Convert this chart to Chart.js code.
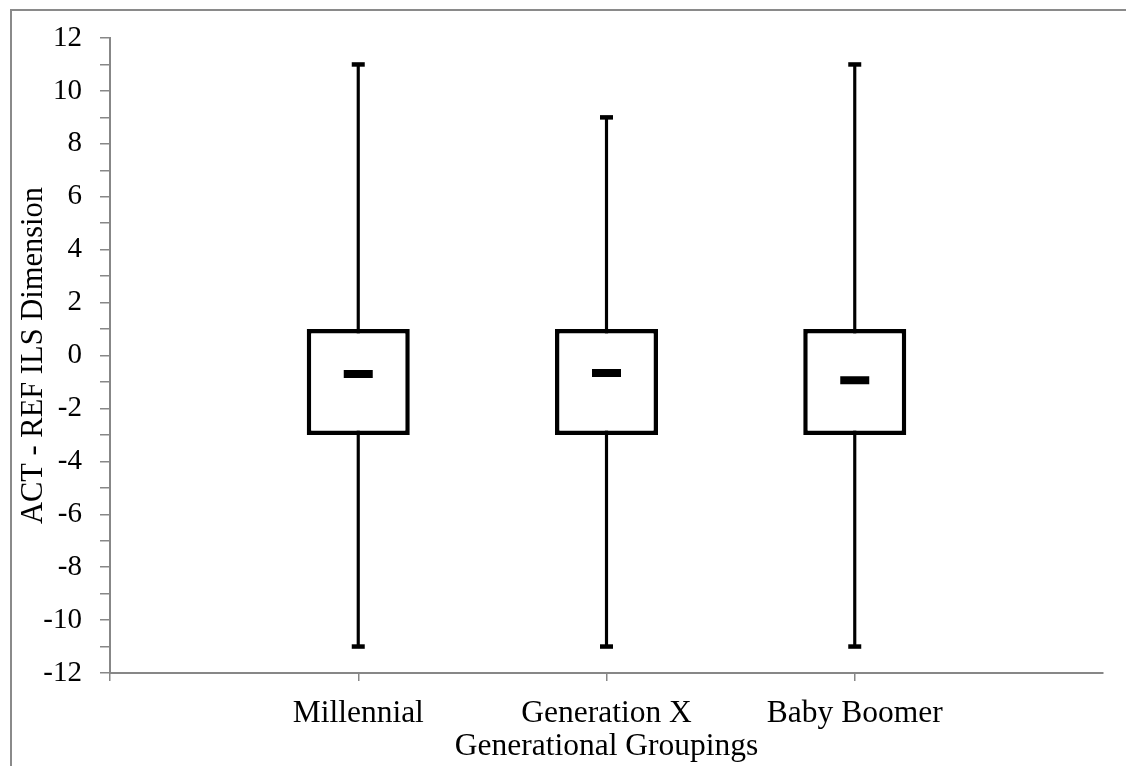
<!DOCTYPE html>
<html>
<head>
<meta charset="utf-8">
<script src="https://cdn.jsdelivr.net/npm/chart.js@4/dist/chart.umd.min.js"></script>
<style>
  html, body { margin: 0; padding: 0; background: #fff; overflow: hidden; }
  #wrap { position: relative; width: 1126px; height: 766px; }
  #frame { position: absolute; left: 10px; top: 9px; width: 2000px; height: 2000px;
           border-left: 2px solid #8a8a8a; border-top: 2px solid #8a8a8a; pointer-events: none; }
</style>
</head>
<body>
<div id="wrap">
  <canvas id="c" width="1126" height="766"></canvas>
  <div id="frame"></div>
</div>
<script>
// ---- data ----
const categories = ['Millennial', 'Generation X', 'Baby Boomer'];
const whiskerMin = [-11, -11, -11];
const whiskerMax = [11, 9, 11];
const boxQ1 = [-3, -3, -3];
const boxQ3 = [1, 1, 1];
const meanValues = [-0.7, -0.66, -0.94];
const yMin = -12;
const yMax = 12;
const yLabelStep = 2;
const xTitle = 'Generational Groupings';
const yTitle = 'ACT - REF ILS Dimension';

// Category axis padded with an empty slot on each side (axis runs 0..4, groups sit at 1..3)
const labels = [''].concat(categories, ['']);
const pad = arr => [null].concat(arr, [null]);
const rangePad = (lo, hi) => [null].concat(lo.map((v, i) => [v, hi[i]]), [null]);

const FAMILY = "'Liberation Serif', 'Times New Roman', serif";
const FONT_Y = { family: FAMILY, size: 29 };
const FONT_YT = { family: FAMILY, size: 30.5 };
const FONT_X = { family: FAMILY, size: 31.5 };
const AXIS = '#878787';

new Chart(document.getElementById('c'), {
  type: 'bar',
  data: {
    labels: labels,
    datasets: [
      { type: 'line', label: 'Mean', data: pad(meanValues), showLine: false,
        pointStyle: 'line', pointRadius: 14.5, pointHoverRadius: 14.5,
        borderColor: '#000', pointBorderWidth: 8, borderWidth: 8 },
      { type: 'line', label: 'Max', data: pad(whiskerMax), showLine: false,
        pointStyle: 'line', pointRadius: 6.5, pointHoverRadius: 6.5,
        borderColor: '#000', pointBorderWidth: 4.5, borderWidth: 4.5 },
      { type: 'line', label: 'Min', data: pad(whiskerMin), showLine: false,
        pointStyle: 'line', pointRadius: 6.5, pointHoverRadius: 6.5,
        borderColor: '#000', pointBorderWidth: 4.5, borderWidth: 4.5 },
      { label: 'Box', data: rangePad(boxQ1, boxQ3), grouped: false,
        backgroundColor: '#fff', borderColor: '#000', borderWidth: 4.5,
        borderSkipped: false, barPercentage: 0.415, categoryPercentage: 1 },
      { label: 'Whisker', data: rangePad(whiskerMin, whiskerMax), grouped: false,
        backgroundColor: '#000', borderWidth: 0, barThickness: 2.5 }
    ]
  },
  options: {
    responsive: false,
    animation: false,
    events: [],
    layout: { padding: { top: 38, right: 23, bottom: 0, left: 0 } },
    plugins: { legend: { display: false }, tooltip: { enabled: false } },
    scales: {
      x: {
        type: 'category',
        offset: false,
        grid: {
          offset: false, drawOnChartArea: false, drawTicks: true, tickLength: 8,
          lineWidth: 1.5,
          color: ctx => (ctx.index === labels.length - 1 ? 'rgba(0,0,0,0)' : AXIS)
        },
        border: { color: AXIS, width: 2 },
        ticks: { color: '#000', font: FONT_X, padding: 14, autoSkip: false, maxRotation: 0 },
        title: { display: true, text: xTitle, color: '#000', font: FONT_X, padding: { top: 0, bottom: 0 } },
        afterFit: s => { s.height = 93; }
      },
      y: {
        min: yMin, max: yMax,
        grid: { drawOnChartArea: false, drawTicks: true, tickLength: 10, lineWidth: 1.5, color: AXIS },
        border: { color: AXIS, width: 2 },
        ticks: {
          stepSize: 1, autoSkip: false, color: '#000', font: FONT_Y, padding: 18,
          callback: v => (v % yLabelStep === 0 ? String(v) : '')
        },
        title: { display: true, text: yTitle, color: '#000', font: FONT_YT, padding: { top: 16, bottom: 0 } },
        afterFit: s => { s.width = 110; }
      }
    }
  }
});
</script>
</body>
</html>
